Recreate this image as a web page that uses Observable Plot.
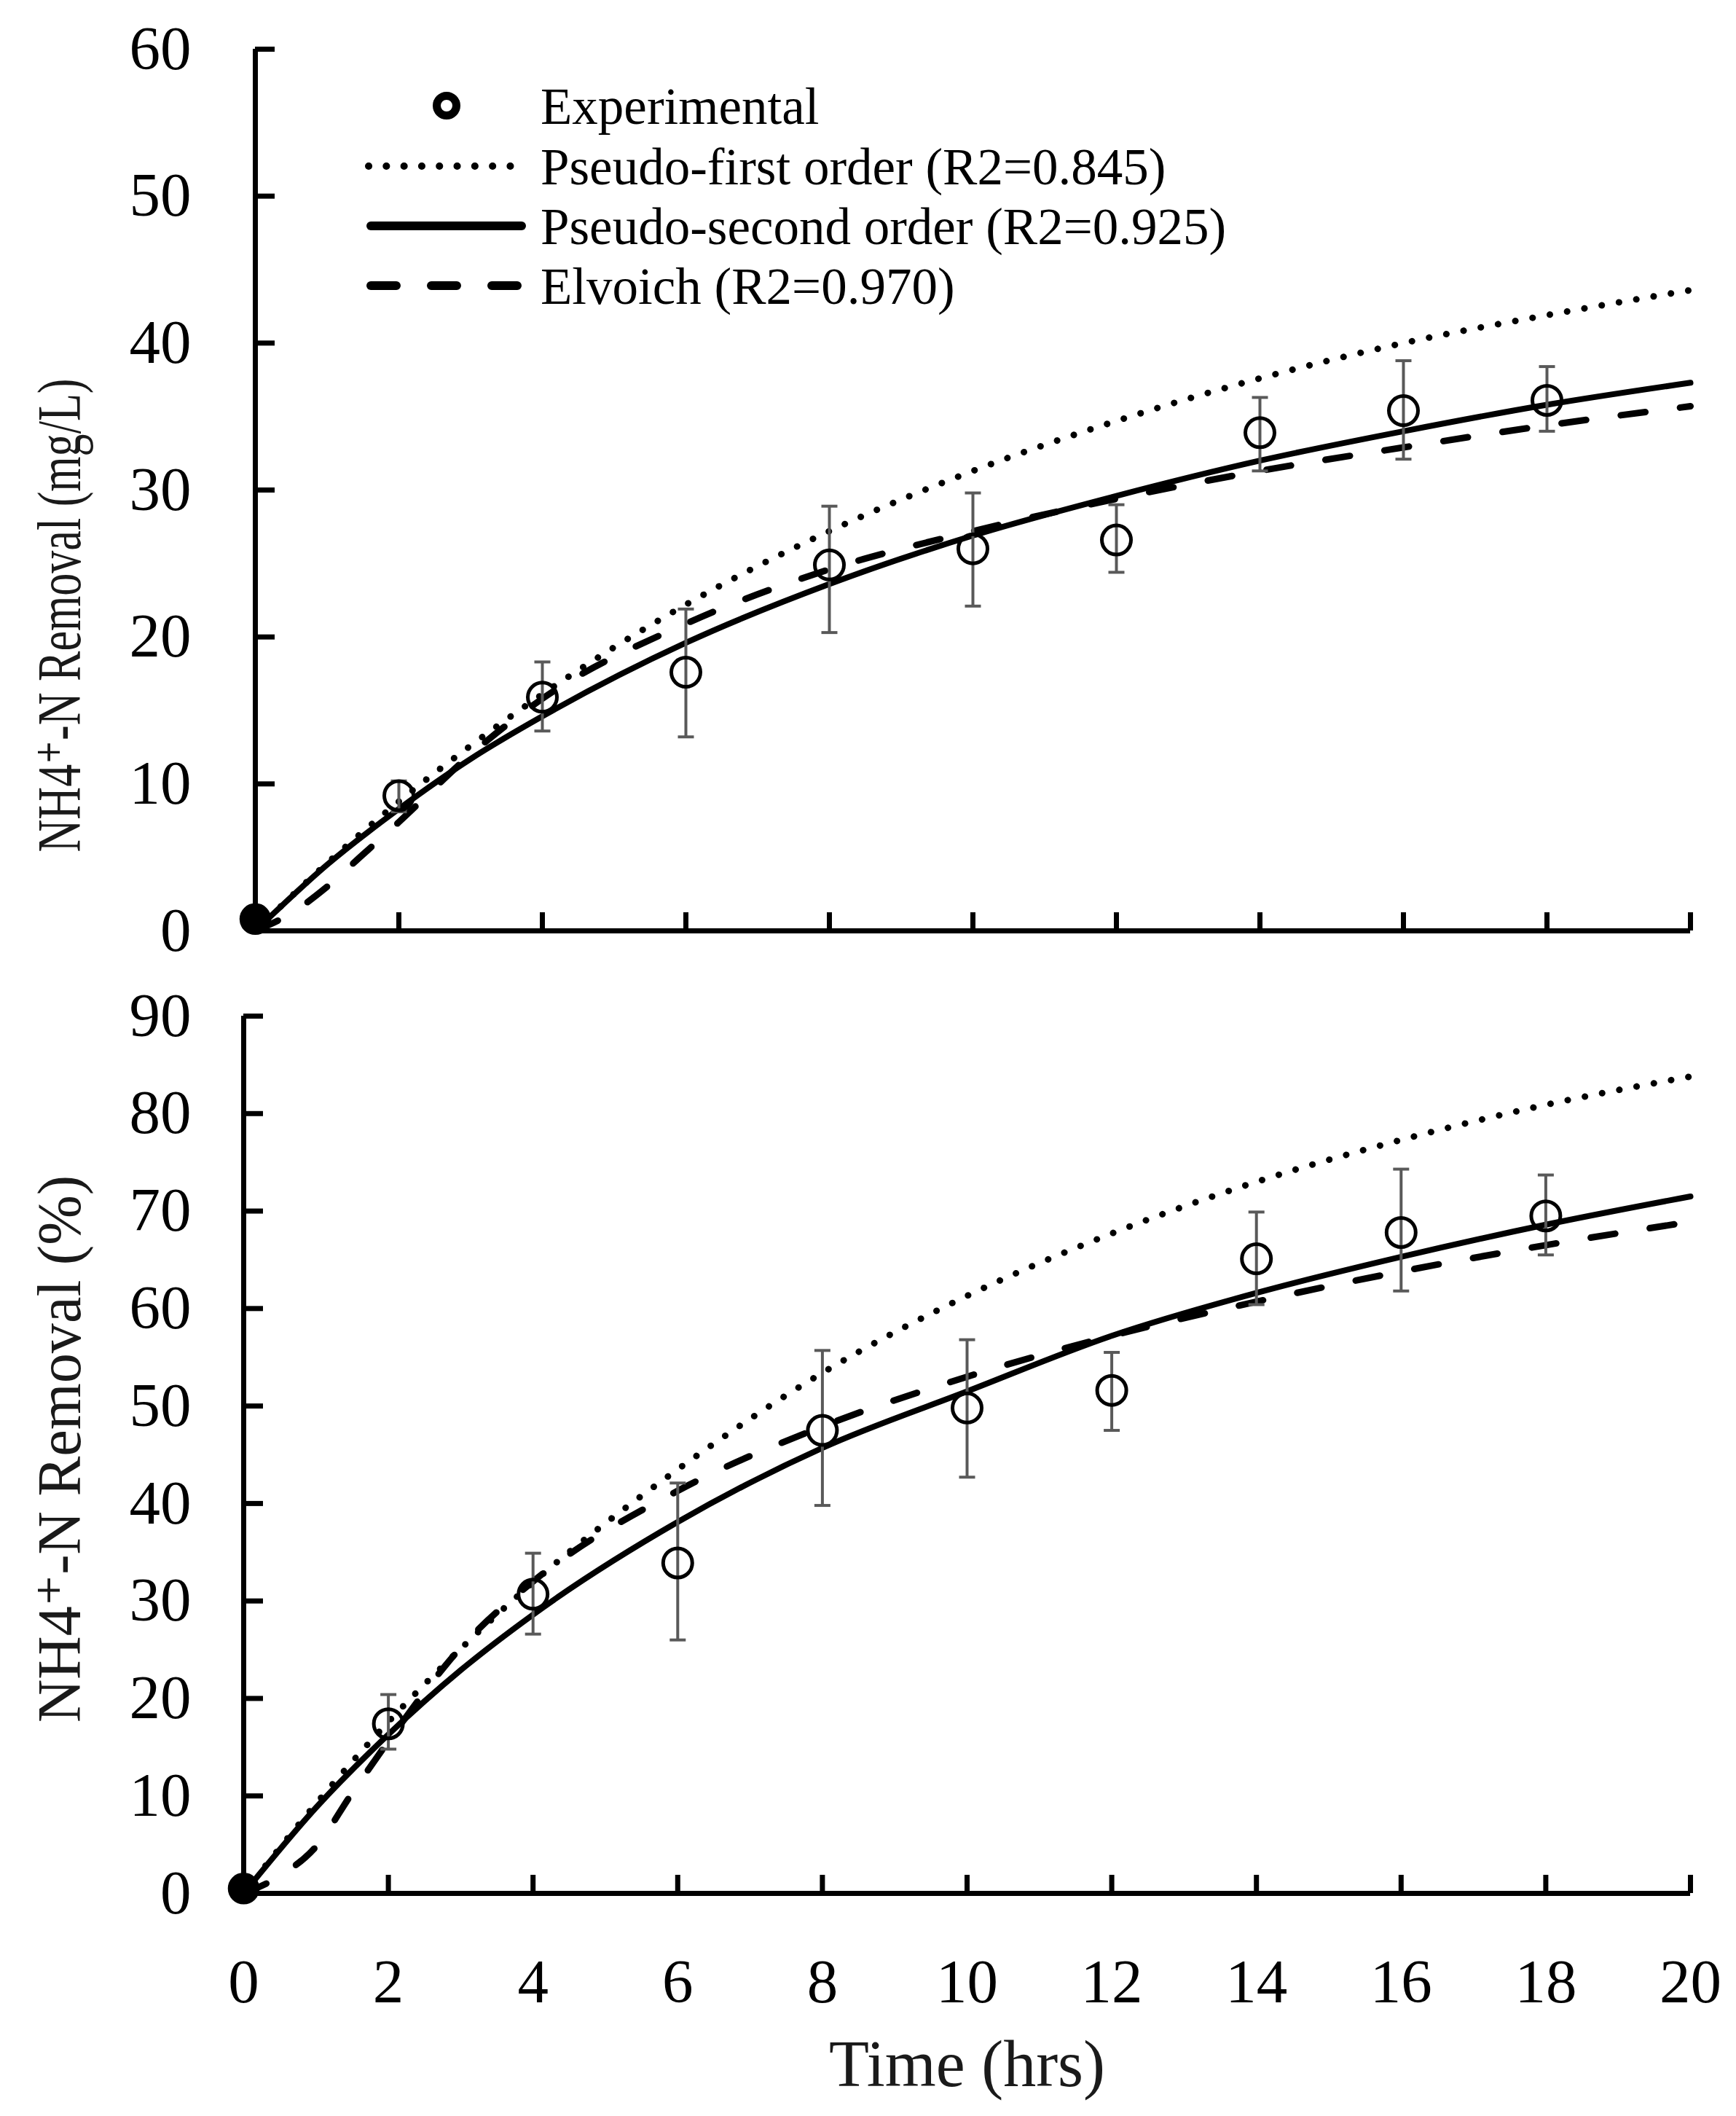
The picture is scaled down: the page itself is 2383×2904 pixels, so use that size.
<!DOCTYPE html>
<html>
<head>
<meta charset="utf-8">
<script src="https://cdn.jsdelivr.net/npm/d3@7"></script>
<script src="https://cdn.jsdelivr.net/npm/@observablehq/plot@0.6"></script>
<style>
  body { margin: 0; background: #fff; }
  #chart svg { display: block; }
</style>
</head>
<body>
<div id="chart"></div>
<script>
// sampling times of the experiment (hrs)
const obsTime = [0, 2, 4, 6, 8, 10, 12, 14, 16, 18]

// NH4+-N removal, mg/L
const massObs  = [0.8, 9.2, 15.9, 17.6, 24.9, 26.0, 26.6, 33.9, 35.4, 36.1]
const massLow  = [null, 8.1, 13.6, 13.2, 20.3, 22.1, 24.4, 31.3, 32.1, 34.0]
const massHigh = [null, 10.2, 18.3, 21.9, 28.9, 29.8, 29.0, 36.3, 38.8, 38.4]

// NH4+-N removal, %
const pctObs  = [0.5, 17.4, 30.7, 33.9, 47.5, 49.8, 51.6, 65.1, 67.8, 69.5]
const pctLow  = [null, 14.8, 26.6, 26.0, 39.8, 42.7, 47.5, 60.4, 61.8, 65.5]
const pctHigh = [null, 20.4, 34.9, 42.1, 55.7, 56.8, 55.5, 69.9, 74.3, 73.7]

// model curves
const fitTime = [0, 1, 2, 3, 4, 6, 8, 10, 12, 14, 16, 18, 20]
const massFirst  = [0, 4.6, 8.8, 12.6, 16.1, 22.2, 27.2, 31.3, 34.7, 37.6, 40.0, 41.9, 43.6]
const massSecond = [0, 4.5, 8.3, 11.7, 14.6, 19.6, 23.6, 26.9, 29.6, 32.0, 34.0, 35.8, 37.3]
const pctFirst   = [0, 9.2, 17.6, 25.1, 31.9, 43.5, 53.4, 61.3, 67.7, 73.0, 77.3, 80.9, 83.8]
const pctSecond  = [0, 8.8, 16.3, 22.9, 28.6, 38.1, 45.7, 51.5, 57.2, 61.6, 65.3, 68.6, 71.5]

const elovichTime = [0, 0.5, 1, 1.5, 2, 3, 4, 6, 8, 10, 12, 14, 16, 18, 20]
const massElovich = [0, 1.2, 3.0, 5.2, 7.4, 12.0, 15.8, 20.9, 24.6, 27.2, 29.4, 31.3, 32.9, 34.4, 35.7]
const pctElovich  = [0, 1.8, 4.8, 10.3, 15.6, 25.2, 32.0, 41.3, 47.9, 53.0, 57.2, 60.7, 63.8, 66.5, 68.9]

const timeTicks = [0, 2, 4, 6, 8, 10, 12, 14, 16, 18, 20]
const massTicks = [0, 10, 20, 30, 40, 50, 60]
const pctTicks  = [0, 10, 20, 30, 40, 50, 60, 70, 80, 90]

const legendLabels = ['Experimental', 'Pseudo-first order (R2=0.845)', 'Pseudo-second order (R2=0.925)', 'Elvoich (R2=0.970)']
const yLabels = ['NH4\u207A-N Removal (mg/L)', 'NH4\u207A-N Removal (%)']
const xLabel = 'Time (hrs)'

const font = "'Liberation Serif', 'DejaVu Serif', serif"
const barColor = '#595959'

// horizontal cap for the error bars
const capSymbol = {
  draw(context, size) {
    const w = Math.sqrt(size / Math.PI)
    context.moveTo(-w, 0)
    context.lineTo(w, 0)
  }
}

function panel(o) {
  const points = obsTime.map((t, i) => ({t, v: o.obs[i], lo: o.low[i], hi: o.high[i]}))
  const bars = points.filter(d => d.lo != null)
  const fits = fitTime.map((t, i) => ({t, first: o.first[i], second: o.second[i]}))
  const elo = elovichTime.map((t, i) => ({t, v: o.elovich[i]}))
  const yMax = o.yTicks[o.yTicks.length - 1]

  return Plot.plot({
    width: 2383,
    height: o.height,
    marginLeft: o.marginLeft,
    marginRight: 63,
    marginTop: o.marginTop,
    marginBottom: o.marginBottom,
    style: {fontFamily: font, color: 'black', background: 'white'},
    x: {domain: [0, 20]},
    y: {domain: [0, yMax]},
    marks: [
      Plot.axisY(o.yTicks, {tickSize: 0, tickPadding: o.labelPad, fontSize: 85, label: null}),
      Plot.axisY(o.yTicks.slice(1), {tickSize: -27, strokeWidth: 7, fill: 'none'}),
      Plot.axisX(timeTicks.slice(1), {tickSize: -25, strokeWidth: 7, fill: 'none'}),
      o.showX ? Plot.axisX(timeTicks, {tickSize: 0, tickPadding: 89, fontSize: 85, label: null}) : null,
      Plot.ruleX([0], {strokeWidth: 7}),
      Plot.ruleY([0], {strokeWidth: 7}),

      Plot.line(fits, {x: 't', y: 'first', curve: 'monotone-x', strokeWidth: 9,
        strokeDasharray: '0.1 24', strokeLinecap: 'round'}),
      Plot.line(elo, {x: 't', y: 'v', curve: 'monotone-x', strokeWidth: 9,
        strokeDasharray: '34 48', strokeLinecap: 'round'}),
      Plot.line(fits, {x: 't', y: 'second', curve: 'monotone-x', strokeWidth: 8}),

      Plot.ruleX(bars, {x: 't', y1: 'lo', y2: 'hi', stroke: barColor, strokeWidth: 4}),
      Plot.dot(bars, {x: 't', y: 'lo', symbol: capSymbol, r: 11, stroke: barColor, strokeWidth: 4, fill: 'none'}),
      Plot.dot(bars, {x: 't', y: 'hi', symbol: capSymbol, r: 11, stroke: barColor, strokeWidth: 4, fill: 'none'}),

      Plot.dot(points.filter(d => d.t > 0), {x: 't', y: 'v', r: 20, stroke: 'black', strokeWidth: 5, fill: 'none'}),
      Plot.dot(points.filter(d => d.t == 0), {x: 't', y: 'v', r: 21, fill: 'black', stroke: 'black'}),

      Plot.text([o.yLabel], {text: d => d, frameAnchor: 'left', rotate: -90, dx: o.labelDx, dy: o.labelDy,
        fontSize: 84, textAnchor: 'middle', lineAnchor: 'middle', fill: '#1a1a1a'}),
      o.showX ? Plot.text([xLabel], {text: d => d, frameAnchor: 'bottom', dy: 236, fontSize: 90,
        textAnchor: 'middle', lineAnchor: 'middle', fill: '#1a1a1a'}) : null
    ]
  })
}

const topChart = panel({
  obs: massObs, low: massLow, high: massHigh,
  first: massFirst, second: massSecond, elovich: massElovich,
  yTicks: massTicks, yLabel: yLabels[0],
  height: 1340, marginLeft: 350, marginTop: 67, marginBottom: 63,
  labelPad: 88, labelDx: -267, labelDy: 172, showX: false
})
const bottomChart = panel({
  obs: pctObs, low: pctLow, high: pctHigh,
  first: pctFirst, second: pctSecond, elovich: pctElovich,
  yTicks: pctTicks, yLabel: yLabels[1],
  height: 1564, marginLeft: 334, marginTop: 54, marginBottom: 306,
  labelPad: 72, labelDx: -251, labelDy: -8, showX: true
})

// the y titles are squeezed in the original
const squeeze = (svg, label, len) => d3.select(svg).selectAll('text')
  .filter(function() { return this.textContent === label })
  .attr('textLength', len).attr('lengthAdjust', 'spacingAndGlyphs')
squeeze(topChart, yLabels[0], 650)
squeeze(bottomChart, yLabels[1], 751)

// legend in the upper panel
const rows = [145, 228, 310, 392]
const lg = d3.select(topChart).append('g').attr('text-anchor', 'start')
lg.append('circle').attr('cx', 613).attr('cy', rows[0]).attr('r', 13.5)
  .attr('fill', 'none').attr('stroke', 'black').attr('stroke-width', 11)
lg.append('line').attr('x1', 506).attr('x2', 706).attr('y1', rows[1]).attr('y2', rows[1])
  .attr('stroke', 'black').attr('stroke-width', 10).attr('stroke-linecap', 'round')
  .attr('stroke-dasharray', '0.1 24.2')
lg.append('line').attr('x1', 509).attr('x2', 716).attr('y1', rows[2]).attr('y2', rows[2])
  .attr('stroke', 'black').attr('stroke-width', 12).attr('stroke-linecap', 'round')
lg.append('line').attr('x1', 509).attr('x2', 716).attr('y1', rows[3]).attr('y2', rows[3])
  .attr('stroke', 'black').attr('stroke-width', 12).attr('stroke-linecap', 'round')
  .attr('stroke-dasharray', '35 48')
lg.selectAll('text').data(legendLabels).join('text')
  .attr('x', 742).attr('y', (d, i) => rows[i])
  .attr('dy', '0.35em').attr('text-anchor', 'start')
  .attr('font-family', font).attr('font-size', 71).attr('fill', 'black')
  .text(d => d)

d3.select('#chart').append(() => topChart)
d3.select('#chart').append(() => bottomChart)
</script>
</body>
</html>
